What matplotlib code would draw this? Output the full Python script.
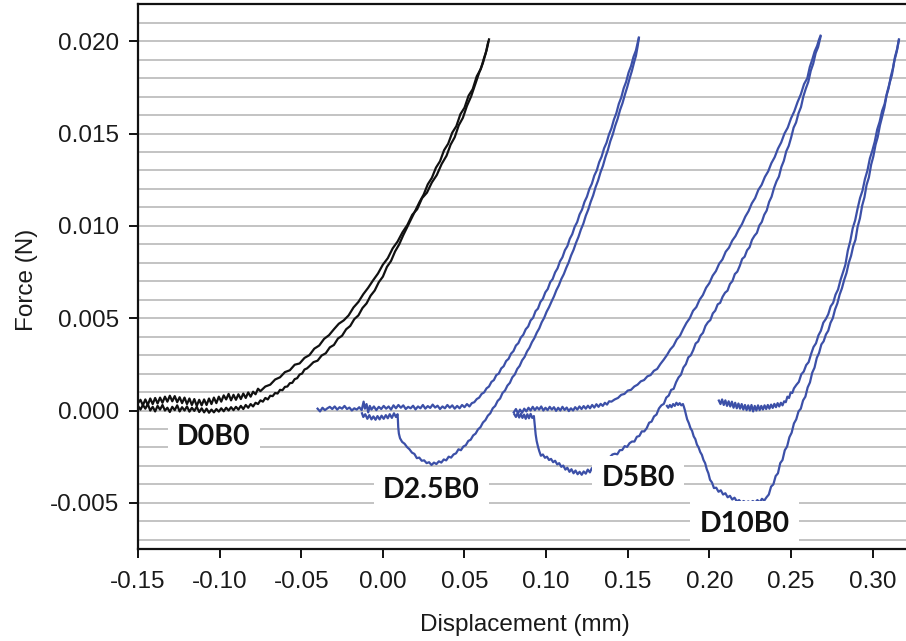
import matplotlib
matplotlib.use("Agg")
import matplotlib.pyplot as plt
import numpy as np
from matplotlib.ticker import FormatStrFormatter, MultipleLocator

plt.rcParams['axes.unicode_minus'] = False
plt.rcParams['font.family'] = ['Liberation Sans', 'DejaVu Sans']

# ---------------- data ----------------
# D0B0 : loading branch (lower / right)
d0_load_x = [-0.1500, -0.1485, -0.1470, -0.1455, -0.1440, -0.1425, -0.1410, -0.1395, -0.1380, -0.1365,
             -0.1350, -0.1335, -0.1320, -0.1305, -0.1290, -0.1275, -0.1260, -0.1245, -0.1230, -0.1215,
             -0.1200, -0.1185, -0.1170, -0.1155, -0.1140, -0.1125, -0.1110, -0.1095, -0.1080, -0.1065,
             -0.1050, -0.1035, -0.1020, -0.1005, -0.0990, -0.0975, -0.0960, -0.0945, -0.0930, -0.0915,
             -0.0900, -0.0885, -0.0870, -0.0855, -0.0840, -0.0825, -0.0810, -0.0795, -0.0780, -0.0765,
             -0.0750, -0.0735, -0.0720, -0.0705, -0.0690, -0.0675, -0.0660, -0.0645, -0.0630, -0.0615,
             -0.0600, -0.0585, -0.0570, -0.0555, -0.0540, -0.0525, -0.0510, -0.0495, -0.0480, -0.0465,
             -0.0450, -0.0425, -0.0400, -0.0375, -0.0350, -0.0325, -0.0300, -0.0275, -0.0250, -0.0225,
             -0.0200, -0.0175, -0.0150, -0.0125, -0.0100, -0.0075, -0.0050, -0.0025, 0.0000, 0.0025,
             0.0050, 0.0075, 0.0100, 0.0125, 0.0150, 0.0175, 0.0200, 0.0225, 0.0250, 0.0275,
             0.0300, 0.0325, 0.0350, 0.0375, 0.0400, 0.0425, 0.0450, 0.0475, 0.0500, 0.0525,
             0.0550, 0.0575, 0.0600, 0.0620, 0.0635, 0.0650]
d0_load_y = [0.00025, 0.00005, 0.00030, 0.00010, 0.00035, 0.00000, 0.00020, -0.00005, 0.00025, 0.00005,
             0.00030, 0.00000, 0.00015, -0.00008, 0.00020, 0.00002, 0.00028, -0.00005, 0.00018, 0.00000,
             0.00022, -0.00006, 0.00015, -0.00002, 0.00020, -0.00008, 0.00012, -0.00010, 0.00010, -0.00012,
             0.00005, -0.00010, 0.00008, -0.00006, 0.00012, -0.00004, 0.00015, 0.00000, 0.00018, 0.00002,
             0.00020, 0.00005, 0.00025, 0.00008, 0.00030, 0.00015, 0.00035, 0.00022, 0.00042, 0.00035,
             0.00055, 0.00048, 0.00068, 0.00060, 0.00080, 0.00078, 0.00095, 0.00092, 0.00112, 0.00110,
             0.00128, 0.00130, 0.00148, 0.00150, 0.00170, 0.00175, 0.00195, 0.00200, 0.00222, 0.00228,
             0.00240, 0.00262, 0.00270, 0.00298, 0.00310, 0.00342, 0.00355, 0.00390, 0.00405, 0.00440,
             0.00458, 0.00495, 0.00515, 0.00555, 0.00580, 0.00622, 0.00650, 0.00695, 0.00725, 0.00778,
             0.00810, 0.00862, 0.00900, 0.00950, 0.00995, 0.01040, 0.01085, 0.01130, 0.01170, 0.01225,
             0.01260, 0.01315, 0.01350, 0.01410, 0.01445, 0.01505, 0.01540, 0.01605, 0.01640, 0.01705,
             0.01740, 0.01810, 0.01850, 0.01910, 0.01950, 0.02010]
# D0B0 : unloading branch (upper / left)
d0_unload_x = [0.0645, 0.0630, 0.0612, 0.0590, 0.0565, 0.0540, 0.0515, 0.0490, 0.0465, 0.0440,
               0.0415, 0.0390, 0.0360, 0.0330, 0.0300, 0.0270, 0.0240, 0.0210, 0.0180, 0.0150,
               0.0120, 0.0090, 0.0060, 0.0030, 0.0000, -0.0030, -0.0060, -0.0090, -0.0120, -0.0150,
               -0.0180, -0.0210, -0.0240, -0.0270, -0.0300, -0.0330, -0.0360, -0.0390, -0.0420, -0.0450,
               -0.0480, -0.0510, -0.0540, -0.0570, -0.0600, -0.0630, -0.0660, -0.0690, -0.0720, -0.0750,
               -0.0765, -0.0780, -0.0795, -0.0810, -0.0825, -0.0840, -0.0855, -0.0870, -0.0885, -0.0900,
               -0.0915, -0.0930, -0.0945, -0.0960, -0.0975, -0.0990, -0.1005, -0.1020, -0.1035, -0.1050,
               -0.1065, -0.1080, -0.1095, -0.1110, -0.1125, -0.1140, -0.1155, -0.1170, -0.1185, -0.1200,
               -0.1215, -0.1230, -0.1245, -0.1260, -0.1275, -0.1290, -0.1305, -0.1320, -0.1335, -0.1350,
               -0.1365, -0.1380, -0.1395, -0.1410, -0.1425, -0.1440, -0.1455, -0.1470, -0.1485, -0.1500]
d0_unload_y = [0.01995, 0.01935, 0.01880, 0.01830, 0.01765, 0.01700, 0.01650, 0.01585, 0.01545, 0.01480,
               0.01440, 0.01380, 0.01335, 0.01275, 0.01235, 0.01180, 0.01150, 0.01090, 0.01060, 0.01005,
               0.00965, 0.00915, 0.00878, 0.00825, 0.00790, 0.00742, 0.00705, 0.00665, 0.00630, 0.00588,
               0.00558, 0.00515, 0.00488, 0.00470, 0.00440, 0.00408, 0.00388, 0.00352, 0.00335, 0.00300,
               0.00285, 0.00255, 0.00248, 0.00218, 0.00208, 0.00180, 0.00168, 0.00140, 0.00130, 0.00105,
               0.00118, 0.00088, 0.00102, 0.00075, 0.00098, 0.00068, 0.00092, 0.00062, 0.00088, 0.00058,
               0.00085, 0.00055, 0.00090, 0.00060, 0.00082, 0.00048, 0.00075, 0.00040, 0.00070, 0.00035,
               0.00065, 0.00030, 0.00060, 0.00028, 0.00058, 0.00025, 0.00062, 0.00030, 0.00065, 0.00035,
               0.00070, 0.00040, 0.00072, 0.00045, 0.00078, 0.00050, 0.00080, 0.00048, 0.00075, 0.00042,
               0.00070, 0.00038, 0.00068, 0.00035, 0.00065, 0.00030, 0.00060, 0.00028, 0.00058, 0.00040]

# D2.5B0 : loading
d25_load_x = [-0.0400, -0.0385, -0.0370, -0.0355, -0.0340, -0.0325, -0.0310, -0.0295, -0.0280, -0.0265,
              -0.0250, -0.0235, -0.0220, -0.0205, -0.0190, -0.0175, -0.0160, -0.0145, -0.0130, -0.0118,
              -0.0110, -0.0100, -0.0090, -0.0080, -0.0070, -0.0055, -0.0040, -0.0025, -0.0010, 0.0005,
              0.0020, 0.0035, 0.0050, 0.0065, 0.0080, 0.0095, 0.0110, 0.0125, 0.0140, 0.0155,
              0.0170, 0.0185, 0.0200, 0.0215, 0.0230, 0.0245, 0.0260, 0.0275, 0.0290, 0.0305,
              0.0320, 0.0335, 0.0350, 0.0365, 0.0380, 0.0395, 0.0410, 0.0425, 0.0440, 0.0455,
              0.0470, 0.0485, 0.0500, 0.0515, 0.0530, 0.0545, 0.0560, 0.0575, 0.0590, 0.0605,
              0.0620, 0.0635, 0.0650, 0.0665, 0.0680, 0.0695, 0.0710, 0.0725, 0.0740, 0.0755,
              0.0770, 0.0785, 0.0800, 0.0815, 0.0830, 0.0845, 0.0860, 0.0875, 0.0890, 0.0905,
              0.0920, 0.0935, 0.0950, 0.0965, 0.0980, 0.0995, 0.1010, 0.1025, 0.1040, 0.1055,
              0.1070, 0.1085, 0.1100, 0.1115, 0.1130, 0.1145, 0.1160, 0.1175, 0.1190, 0.1205,
              0.1220, 0.1235, 0.1250, 0.1265, 0.1280, 0.1295, 0.1310, 0.1325, 0.1340, 0.1355,
              0.1370, 0.1385, 0.1400, 0.1415, 0.1430, 0.1445, 0.1460, 0.1475, 0.1490, 0.1505,
              0.1520, 0.1535, 0.1550, 0.1560, 0.1568]
d25_load_y = [0.00010, -0.00005, 0.00015, 0.00002, 0.00012, 0.00020, 0.00008, 0.00022, 0.00005, 0.00018,
              0.00010, 0.00025, 0.00008, 0.00016, 0.00000, 0.00012, 0.00005, 0.00018, 0.00002, 0.00048,
              0.00010, 0.00035, -0.00010, 0.00025, 0.00005, 0.00022, 0.00002, 0.00020, 0.00008, 0.00025,
              0.00010, 0.00022, 0.00005, 0.00028, 0.00012, 0.00030, 0.00015, 0.00028, 0.00008, 0.00020,
              0.00012, 0.00026, 0.00006, 0.00022, 0.00012, 0.00030, 0.00010, 0.00024, 0.00014, 0.00032,
              0.00016, 0.00026, 0.00008, 0.00022, 0.00012, 0.00030, 0.00015, 0.00028, 0.00010, 0.00025,
              0.00012, 0.00030, 0.00018, 0.00035, 0.00022, 0.00040, 0.00045, 0.00062, 0.00070, 0.00090,
              0.00098, 0.00120, 0.00130, 0.00155, 0.00165, 0.00192, 0.00200, 0.00228, 0.00240, 0.00268,
              0.00280, 0.00308, 0.00322, 0.00352, 0.00365, 0.00395, 0.00410, 0.00440, 0.00455, 0.00488,
              0.00502, 0.00538, 0.00552, 0.00588, 0.00605, 0.00640, 0.00658, 0.00695, 0.00712, 0.00748,
              0.00770, 0.00808, 0.00830, 0.00868, 0.00890, 0.00930, 0.00955, 0.00995, 0.01020, 0.01062,
              0.01088, 0.01130, 0.01158, 0.01200, 0.01228, 0.01272, 0.01300, 0.01345, 0.01375, 0.01420,
              0.01450, 0.01495, 0.01528, 0.01575, 0.01610, 0.01660, 0.01695, 0.01745, 0.01780, 0.01830,
              0.01865, 0.01915, 0.01950, 0.01990, 0.02020]
# D2.5B0 : unloading (with adhesion dip)
d25_unload_x = [0.1568, 0.1560, 0.1550, 0.1540, 0.1525, 0.1512, 0.1497, 0.1483, 0.1468, 0.1453,
                0.1438, 0.1423, 0.1408, 0.1393, 0.1378, 0.1363, 0.1348, 0.1333, 0.1318, 0.1303,
                0.1288, 0.1273, 0.1258, 0.1243, 0.1228, 0.1213, 0.1198, 0.1183, 0.1168, 0.1153,
                0.1138, 0.1123, 0.1108, 0.1093, 0.1078, 0.1063, 0.1048, 0.1033, 0.1018, 0.1003,
                0.0988, 0.0973, 0.0958, 0.0943, 0.0928, 0.0913, 0.0898, 0.0883, 0.0868, 0.0853,
                0.0838, 0.0823, 0.0808, 0.0793, 0.0778, 0.0763, 0.0748, 0.0733, 0.0718, 0.0703,
                0.0688, 0.0673, 0.0658, 0.0643, 0.0628, 0.0613, 0.0598, 0.0583, 0.0568, 0.0553,
                0.0538, 0.0523, 0.0508, 0.0493, 0.0478, 0.0463, 0.0448, 0.0433, 0.0418, 0.0403,
                0.0388, 0.0373, 0.0358, 0.0343, 0.0328, 0.0313, 0.0298, 0.0283, 0.0268, 0.0253,
                0.0238, 0.0223, 0.0208, 0.0193, 0.0178, 0.0163, 0.0148, 0.0133, 0.0118, 0.0105,
                0.0098, 0.0094, 0.0092, 0.0090, 0.0080, 0.0068, 0.0055, 0.0042, 0.0030, 0.0018,
                0.0005, -0.0008, -0.0020, -0.0033, -0.0045, -0.0058, -0.0070, -0.0083, -0.0095, -0.0108,
                -0.0120, -0.0128]
d25_unload_y = [0.02015, 0.01970, 0.01920, 0.01890, 0.01838, 0.01800, 0.01752, 0.01712, 0.01665, 0.01628,
                0.01580, 0.01542, 0.01495, 0.01458, 0.01410, 0.01372, 0.01325, 0.01290, 0.01245, 0.01210,
                0.01165, 0.01130, 0.01088, 0.01055, 0.01012, 0.00980, 0.00940, 0.00908, 0.00870, 0.00840,
                0.00802, 0.00772, 0.00738, 0.00712, 0.00678, 0.00652, 0.00618, 0.00590, 0.00560, 0.00535,
                0.00502, 0.00478, 0.00445, 0.00422, 0.00392, 0.00370, 0.00340, 0.00320, 0.00290, 0.00272,
                0.00242, 0.00225, 0.00195, 0.00180, 0.00150, 0.00135, 0.00108, 0.00095, 0.00065, 0.00052,
                0.00025, 0.00012, -0.00015, -0.00028, -0.00052, -0.00065, -0.00090, -0.00102, -0.00125, -0.00135,
                -0.00158, -0.00165, -0.00188, -0.00195, -0.00215, -0.00210, -0.00232, -0.00238, -0.00255, -0.00250,
                -0.00270, -0.00265, -0.00282, -0.00275, -0.00290, -0.00282, -0.00295, -0.00280, -0.00285, -0.00270,
                -0.00272, -0.00255, -0.00258, -0.00235, -0.00228, -0.00210, -0.00198, -0.00180, -0.00170, -0.00150,
                -0.00125, -0.00090, -0.00050, -0.00020, -0.00035, -0.00015, -0.00040, -0.00020, -0.00042, -0.00025,
                -0.00045, -0.00028, -0.00048, -0.00030, -0.00050, -0.00032, -0.00048, -0.00025, -0.00045, -0.00020,
                -0.00035, -0.00015]

# D5B0 : loading
d5_load_x = [0.0802, 0.0815, 0.0828, 0.0840, 0.0853, 0.0866, 0.0879, 0.0892, 0.0905, 0.0918,
             0.0931, 0.0944, 0.0957, 0.0970, 0.0983, 0.0996, 0.1009, 0.1022, 0.1035, 0.1048,
             0.1061, 0.1074, 0.1087, 0.1100, 0.1113, 0.1126, 0.1139, 0.1152, 0.1165, 0.1178,
             0.1191, 0.1204, 0.1217, 0.1230, 0.1243, 0.1256, 0.1269, 0.1282, 0.1295, 0.1308,
             0.1321, 0.1334, 0.1347, 0.1360, 0.1373, 0.1386, 0.1400, 0.1420, 0.1440, 0.1460,
             0.1480, 0.1500, 0.1520, 0.1540, 0.1560, 0.1580, 0.1600, 0.1620, 0.1640, 0.1660,
             0.1680, 0.1700, 0.1720, 0.1740, 0.1760, 0.1780, 0.1800, 0.1820, 0.1840, 0.1860,
             0.1880, 0.1900, 0.1920, 0.1940, 0.1960, 0.1980, 0.2000, 0.2020, 0.2040, 0.2060,
             0.2080, 0.2100, 0.2120, 0.2140, 0.2160, 0.2180, 0.2200, 0.2220, 0.2240, 0.2260,
             0.2280, 0.2300, 0.2320, 0.2340, 0.2360, 0.2380, 0.2400, 0.2420, 0.2440, 0.2460,
             0.2480, 0.2500, 0.2520, 0.2540, 0.2560, 0.2580, 0.2600, 0.2615, 0.2630, 0.2645,
             0.2660, 0.2672, 0.2681]
d5_load_y = [-0.00010, 0.00008, -0.00015, 0.00005, -0.00012, 0.00010, -0.00005, 0.00015, 0.00000, 0.00020,
             0.00002, 0.00018, 0.00005, 0.00022, 0.00000, 0.00015, 0.00002, 0.00020, 0.00005, 0.00018,
             -0.00002, 0.00015, 0.00000, 0.00020, 0.00003, 0.00016, -0.00003, 0.00012, 0.00000, 0.00018,
             0.00005, 0.00022, 0.00008, 0.00024, 0.00010, 0.00026, 0.00012, 0.00030, 0.00016, 0.00034,
             0.00020, 0.00036, 0.00025, 0.00042, 0.00032, 0.00050, 0.00048, 0.00060, 0.00068, 0.00085,
             0.00090, 0.00108, 0.00112, 0.00130, 0.00140, 0.00158, 0.00165, 0.00185, 0.00192, 0.00215,
             0.00225, 0.00252, 0.00275, 0.00300, 0.00330, 0.00350, 0.00385, 0.00405, 0.00442, 0.00475,
             0.00500, 0.00540, 0.00560, 0.00600, 0.00625, 0.00665, 0.00690, 0.00730, 0.00755, 0.00795,
             0.00818, 0.00860, 0.00882, 0.00920, 0.00945, 0.00980, 0.01010, 0.01050, 0.01080, 0.01122,
             0.01150, 0.01195, 0.01222, 0.01265, 0.01295, 0.01340, 0.01372, 0.01418, 0.01452, 0.01500,
             0.01532, 0.01582, 0.01620, 0.01670, 0.01712, 0.01768, 0.01800, 0.01860, 0.01900, 0.01945,
             0.01975, 0.02010, 0.02030]
# D5B0 : unloading
d5_unload_x = [0.2681, 0.2666, 0.2651, 0.2636, 0.2621, 0.2606, 0.2591, 0.2576, 0.2561, 0.2546,
               0.2531, 0.2516, 0.2501, 0.2486, 0.2471, 0.2456, 0.2441, 0.2426, 0.2411, 0.2396,
               0.2381, 0.2366, 0.2351, 0.2336, 0.2321, 0.2306, 0.2291, 0.2276, 0.2261, 0.2246,
               0.2231, 0.2216, 0.2201, 0.2186, 0.2171, 0.2156, 0.2141, 0.2126, 0.2111, 0.2096,
               0.2081, 0.2066, 0.2051, 0.2036, 0.2021, 0.2006, 0.1991, 0.1976, 0.1961, 0.1946,
               0.1931, 0.1916, 0.1901, 0.1886, 0.1871, 0.1856, 0.1841, 0.1826, 0.1811, 0.1796,
               0.1781, 0.1766, 0.1751, 0.1736, 0.1721, 0.1706, 0.1691, 0.1676, 0.1661, 0.1646,
               0.1631, 0.1616, 0.1601, 0.1586, 0.1571, 0.1556, 0.1541, 0.1526, 0.1511, 0.1496,
               0.1481, 0.1466, 0.1451, 0.1436, 0.1421, 0.1406, 0.1380, 0.1350, 0.1320, 0.1293,
               0.1280, 0.1268, 0.1255, 0.1243, 0.1230, 0.1218, 0.1205, 0.1193, 0.1180, 0.1168,
               0.1155, 0.1143, 0.1130, 0.1118, 0.1105, 0.1093, 0.1080, 0.1068, 0.1055, 0.1043,
               0.1030, 0.1018, 0.1005, 0.0993, 0.0980, 0.0968, 0.0958, 0.0950, 0.0942, 0.0936,
               0.0932, 0.0928, 0.0925, 0.0915, 0.0905, 0.0895, 0.0885, 0.0875, 0.0865, 0.0855,
               0.0845, 0.0835, 0.0825, 0.0815, 0.0805]
d5_unload_y = [0.02024, 0.01968, 0.01936, 0.01878, 0.01840, 0.01780, 0.01744, 0.01702, 0.01643, 0.01610,
               0.01560, 0.01532, 0.01479, 0.01433, 0.01404, 0.01352, 0.01319, 0.01267, 0.01241, 0.01205,
               0.01158, 0.01130, 0.01083, 0.01060, 0.01021, 0.01002, 0.00962, 0.00946, 0.00924, 0.00884,
               0.00868, 0.00833, 0.00821, 0.00783, 0.00752, 0.00739, 0.00701, 0.00685, 0.00649, 0.00638,
               0.00616, 0.00583, 0.00575, 0.00541, 0.00526, 0.00490, 0.00478, 0.00458, 0.00421, 0.00406,
               0.00374, 0.00363, 0.00327, 0.00299, 0.00288, 0.00251, 0.00233, 0.00194, 0.00179, 0.00153,
               0.00117, 0.00112, 0.00081, 0.00070, 0.00036, 0.00028, 0.00011, -0.00022, -0.00032, -0.00060,
               -0.00066, -0.00096, -0.00113, -0.00113, -0.00138, -0.00142, -0.00168, -0.00168, -0.00177, -0.00197,
               -0.00193, -0.00214, -0.00215, -0.00237, -0.00234, -0.00238, -0.00262, -0.00285, -0.00305, -0.00325,
               -0.00312, -0.00335, -0.00320, -0.00342, -0.00330, -0.00348, -0.00332, -0.00345, -0.00325, -0.00340,
               -0.00318, -0.00332, -0.00310, -0.00320, -0.00298, -0.00305, -0.00285, -0.00292, -0.00272, -0.00280,
               -0.00262, -0.00268, -0.00250, -0.00256, -0.00238, -0.00245, -0.00220, -0.00195, -0.00165, -0.00130,
               -0.00095, -0.00060, -0.00030, -0.00040, -0.00018, -0.00042, -0.00020, -0.00045, -0.00022, -0.00040,
               -0.00018, -0.00038, -0.00015, -0.00035, -0.00020]

# D10B0 : loading
d10_load_x = [0.2058, 0.2068, 0.2078, 0.2088, 0.2098, 0.2108, 0.2118, 0.2128, 0.2138, 0.2148,
              0.2158, 0.2168, 0.2178, 0.2188, 0.2198, 0.2208, 0.2218, 0.2228, 0.2238, 0.2248,
              0.2258, 0.2268, 0.2278, 0.2288, 0.2298, 0.2308, 0.2318, 0.2328, 0.2338, 0.2348,
              0.2358, 0.2368, 0.2378, 0.2388, 0.2398, 0.2408, 0.2418, 0.2428, 0.2438, 0.2448,
              0.2458, 0.2468, 0.2478, 0.2488, 0.2498, 0.2508, 0.2518, 0.2533, 0.2548, 0.2563,
              0.2578, 0.2593, 0.2608, 0.2623, 0.2638, 0.2653, 0.2668, 0.2683, 0.2698, 0.2713,
              0.2728, 0.2743, 0.2758, 0.2773, 0.2788, 0.2803, 0.2818, 0.2833, 0.2848, 0.2863,
              0.2878, 0.2893, 0.2908, 0.2923, 0.2938, 0.2953, 0.2968, 0.2983, 0.2998, 0.3013,
              0.3028, 0.3043, 0.3058, 0.3073, 0.3088, 0.3103, 0.3118, 0.3133, 0.3148, 0.3161]
d10_load_y = [0.00054, 0.00035, 0.00060, 0.00030, 0.00055, 0.00025, 0.00050, 0.00022, 0.00048, 0.00015,
              0.00042, 0.00012, 0.00038, 0.00010, 0.00035, 0.00005, 0.00030, 0.00002, 0.00028, 0.00000,
              0.00030, -0.00005, 0.00025, 0.00000, 0.00028, 0.00002, 0.00025, 0.00005, 0.00028, 0.00008,
              0.00030, 0.00010, 0.00032, 0.00014, 0.00036, 0.00018, 0.00040, 0.00022, 0.00042, 0.00028,
              0.00050, 0.00045, 0.00075, 0.00068, 0.00098, 0.00095, 0.00120, 0.00139, 0.00155, 0.00196,
              0.00211, 0.00246, 0.00262, 0.00306, 0.00344, 0.00364, 0.00407, 0.00432, 0.00476, 0.00495,
              0.00521, 0.00564, 0.00583, 0.00628, 0.00655, 0.00706, 0.00747, 0.00789, 0.00866, 0.00917,
              0.00987, 0.01030, 0.01094, 0.01151, 0.01191, 0.01254, 0.01299, 0.01365, 0.01407, 0.01456,
              0.01522, 0.01564, 0.01623, 0.01659, 0.01720, 0.01770, 0.01816, 0.01893, 0.01945, 0.02006]
# D10B0 : unloading
d10_unload_x = [0.3161, 0.3150, 0.3137, 0.3124, 0.3111, 0.3098, 0.3085, 0.3072, 0.3058, 0.3045,
                0.3031, 0.3018, 0.3004, 0.2991, 0.2977, 0.2963, 0.2950, 0.2936, 0.2922, 0.2908,
                0.2895, 0.2881, 0.2868, 0.2854, 0.2840, 0.2826, 0.2812, 0.2798, 0.2784, 0.2770,
                0.2756, 0.2742, 0.2728, 0.2714, 0.2700, 0.2686, 0.2672, 0.2658, 0.2644, 0.2630,
                0.2616, 0.2602, 0.2588, 0.2574, 0.2560, 0.2546, 0.2532, 0.2518, 0.2504, 0.2490,
                0.2476, 0.2462, 0.2448, 0.2434, 0.2420, 0.2406, 0.2392, 0.2378, 0.2364, 0.2350,
                0.2336, 0.2322, 0.2308, 0.2294, 0.2280, 0.2266, 0.2252, 0.2238, 0.2224, 0.2210,
                0.2196, 0.2182, 0.2168, 0.2154, 0.2140, 0.2126, 0.2112, 0.2098, 0.2084, 0.2070,
                0.2056, 0.2042, 0.2028, 0.2016, 0.2004, 0.1994, 0.1984, 0.1974, 0.1964, 0.1954,
                0.1944, 0.1934, 0.1924, 0.1914, 0.1904, 0.1894, 0.1884, 0.1874, 0.1864, 0.1856,
                0.1850, 0.1844, 0.1838, 0.1828, 0.1818, 0.1808, 0.1798, 0.1788, 0.1778, 0.1768,
                0.1758, 0.1748, 0.1740]
d10_unload_y = [0.02010, 0.01958, 0.01915, 0.01852, 0.01808, 0.01745, 0.01705, 0.01640, 0.01590, 0.01545,
                0.01480, 0.01440, 0.01375, 0.01332, 0.01262, 0.01222, 0.01155, 0.01110, 0.01040, 0.00995,
                0.00925, 0.00890, 0.00838, 0.00800, 0.00745, 0.00708, 0.00662, 0.00628, 0.00580, 0.00548,
                0.00500, 0.00475, 0.00432, 0.00412, 0.00375, 0.00358, 0.00312, 0.00285, 0.00232, 0.00205,
                0.00152, 0.00125, 0.00075, 0.00055, 0.00010, -0.00005, -0.00048, -0.00070, -0.00120, -0.00145,
                -0.00195, -0.00215, -0.00268, -0.00285, -0.00340, -0.00355, -0.00400, -0.00412, -0.00455, -0.00470,
                -0.00488, -0.00478, -0.00498, -0.00485, -0.00500, -0.00490, -0.00500, -0.00492, -0.00500, -0.00490,
                -0.00500, -0.00485, -0.00492, -0.00472, -0.00482, -0.00462, -0.00470, -0.00448, -0.00455, -0.00432,
                -0.00440, -0.00418, -0.00420, -0.00390, -0.00375, -0.00340, -0.00318, -0.00285, -0.00268, -0.00240,
                -0.00225, -0.00200, -0.00185, -0.00155, -0.00140, -0.00110, -0.00095, -0.00068, -0.00048, -0.00020,
                0.00002, 0.00020, 0.00035, 0.00028, 0.00040, 0.00030, 0.00042, 0.00025, 0.00035, 0.00018,
                0.00030, 0.00015, 0.00025]

series_labels = ["D0B0", "D2.5B0", "D5B0", "D10B0"]
label_x = [-0.1037, 0.0297, 0.1563, 0.2216]
label_y = [-0.00146, -0.00433, -0.00368, -0.00612]

x_ticks = [-0.15, -0.10, -0.05, 0.00, 0.05, 0.10, 0.15, 0.20, 0.25, 0.30]
y_ticks = [-0.005, 0.000, 0.005, 0.010, 0.015, 0.020]

# ---------------- figure ----------------
W, H = 906, 641
fig = plt.figure(figsize=(W / 100, H / 100), dpi=100)
ax = fig.add_axes([138 / W, 1 - 549 / H, 768 / W, 544.7 / H])

blue = '#3C50A8'
black = '#111111'
lw = 1.6
ax.plot(d0_load_x, d0_load_y, color=black, lw=lw, zorder=3)
ax.plot(d0_unload_x, d0_unload_y, color=black, lw=lw, zorder=3)
for xs, ys in [(d25_load_x, d25_load_y), (d25_unload_x, d25_unload_y),
               (d5_load_x, d5_load_y), (d5_unload_x, d5_unload_y),
               (d10_load_x, d10_load_y), (d10_unload_x, d10_unload_y)]:
    ax.plot(xs, ys, color=blue, lw=lw, zorder=3)

ax.set_xlim(-0.15, -0.15 + 768 / 1632.5)
ax.set_ylim(-0.0075, 0.022)
ax.set_xticks(x_ticks)
ax.set_yticks(y_ticks)
ax.yaxis.set_minor_locator(MultipleLocator(0.001))
ax.xaxis.set_major_formatter(FormatStrFormatter('%.2f'))
ax.yaxis.set_major_formatter(FormatStrFormatter('%.3f'))
ax.grid(False)
ax.yaxis.grid(True, which='both', color='#BEBEBE', lw=1.3, zorder=0)
ax.set_axisbelow(True)

for s in ['top', 'left', 'bottom']:
    ax.spines[s].set_linewidth(1.6)
    ax.spines[s].set_color('#111111')
ax.spines['right'].set_visible(False)

ax.tick_params(axis='both', which='major', length=6.5, width=1.4, color='#111111',
               labelsize=17.5, labelcolor='#1a1a1a', direction='out')
ax.tick_params(axis='y', pad=7)
ax.tick_params(axis='x', pad=9)
ax.tick_params(which='minor', length=0)

for t, lx, ly in zip(series_labels, label_x, label_y):
    ax.text(lx, ly, t, ha='center', va='center', fontsize=20.5, fontweight='bold',
            family=['Lato', 'DejaVu Sans'], color='#111111', zorder=5,
            bbox=dict(boxstyle='square,pad=0.32', facecolor='white', edgecolor='none'))

fig.text(525 / W, 1 - 625 / H, 'Displacement (mm)', ha='center', va='center',
         fontsize=17.5, color='#1a1a1a')
fig.text(27 / W, 1 - 280 / H, 'Force (N)', ha='center', va='center', rotation=90,
         fontsize=17.5, color='#1a1a1a')

fig.savefig('out.png', dpi=100)
